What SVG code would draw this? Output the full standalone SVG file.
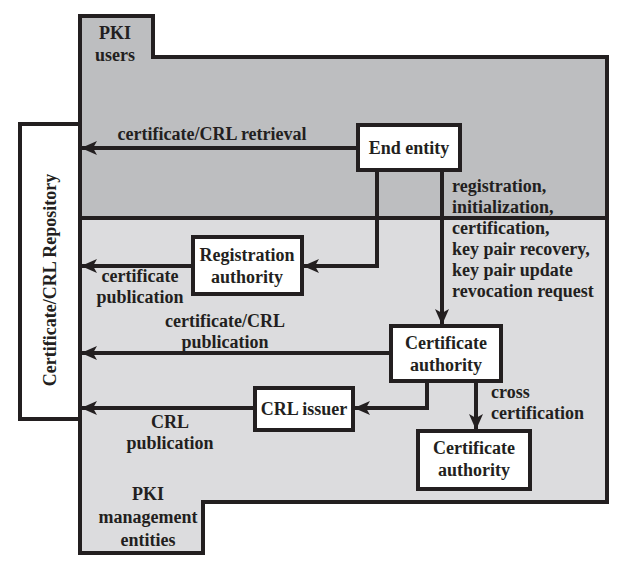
<svg xmlns="http://www.w3.org/2000/svg" width="625" height="565" viewBox="0 0 625 565">
<style>
text{font-family:"Liberation Serif","Times New Roman",serif;font-weight:bold;font-size:18px;fill:#231f20}
.c{text-anchor:middle}
.box{fill:#fff;stroke:#231f20;stroke-width:4}
.ln{fill:none;stroke:#231f20;stroke-width:4}
</style>
<defs>
<marker id="ah" viewBox="0 0 16 14" refX="15" refY="7" markerWidth="16" markerHeight="14" markerUnits="userSpaceOnUse" orient="auto">
<path d="M0,0 L16,7 L0,14 L4,7 Z" fill="#231f20"/>
</marker>
</defs>
<rect width="625" height="565" fill="#fff"/>
<g id="regions">
<path d="M80,16 H153 V57 H607 V218 H80 Z" fill="#bdbec0"/>
<path d="M80,218 H607 V502 H203 V553 H80 Z" fill="#dcdcde"/>
<path d="M80,16 H153 V57 H607 V502 H203 V553 H80 Z" class="ln"/>
<line x1="80" y1="218" x2="607" y2="218" class="ln"/>
<text x="115" y="39" class="c">PKI</text>
<text x="115" y="61" class="c">users</text>
<text x="148" y="500" class="c">PKI</text>
<text x="148" y="523" class="c">management</text>
<text x="148" y="546" class="c">entities</text>
</g>
<g id="repository">
<rect x="20" y="124" width="60" height="295" class="box"/>
<text transform="translate(56,280) rotate(-90)" class="c">Certificate/CRL Repository</text>
</g>
<g id="end-entity">
<rect x="358" y="125" width="102" height="45" class="box"/>
<text x="409" y="154" class="c">End entity</text>
</g>
<g id="registration-authority">
<rect x="193" y="237" width="109" height="57" class="box"/>
<text x="247" y="261" class="c">Registration</text>
<text x="247" y="283" class="c">authority</text>
</g>
<g id="certificate-authority">
<rect x="391" y="326" width="110" height="55" class="box"/>
<text x="446" y="349" class="c">Certificate</text>
<text x="446" y="371" class="c">authority</text>
</g>
<g id="crl-issuer">
<rect x="255" y="388" width="98" height="42" class="box"/>
<text x="304" y="415" class="c">CRL issuer</text>
</g>
<g id="certificate-authority-2">
<rect x="418" y="431" width="112" height="58" class="box"/>
<text x="474" y="454" class="c">Certificate</text>
<text x="474" y="476" class="c">authority</text>
</g>
<g id="connectors">
<line x1="358" y1="148" x2="82" y2="148" class="ln" marker-end="url(#ah)"/>
<polyline points="377,170 377,266 304,266" class="ln" marker-end="url(#ah)"/>
<line x1="442" y1="170" x2="442" y2="324" class="ln" marker-end="url(#ah)"/>
<line x1="193" y1="266" x2="82" y2="266" class="ln" marker-end="url(#ah)"/>
<line x1="391" y1="353" x2="82" y2="353" class="ln" marker-end="url(#ah)"/>
<polyline points="427,381 427,408 355,408" class="ln" marker-end="url(#ah)"/>
<line x1="476" y1="381" x2="476" y2="429" class="ln" marker-end="url(#ah)"/>
<line x1="255" y1="408" x2="82" y2="408" class="ln" marker-end="url(#ah)"/>
</g>
<g id="labels">
<text x="212" y="140" class="c">certificate/CRL retrieval</text>
<text x="452" y="192">registration,</text>
<text x="452" y="213">initialization,</text>
<text x="452" y="234">certification,</text>
<text x="452" y="255">key pair recovery,</text>
<text x="452" y="276">key pair update</text>
<text x="452" y="297">revocation request</text>
<text x="140" y="282" class="c">certificate</text>
<text x="140" y="303" class="c">publication</text>
<text x="225" y="327" class="c">certificate/CRL</text>
<text x="225" y="348" class="c">publication</text>
<text x="170" y="428" class="c">CRL</text>
<text x="170" y="449" class="c">publication</text>
<text x="491" y="398">cross</text>
<text x="491" y="419">certification</text>
</g>
</svg>
